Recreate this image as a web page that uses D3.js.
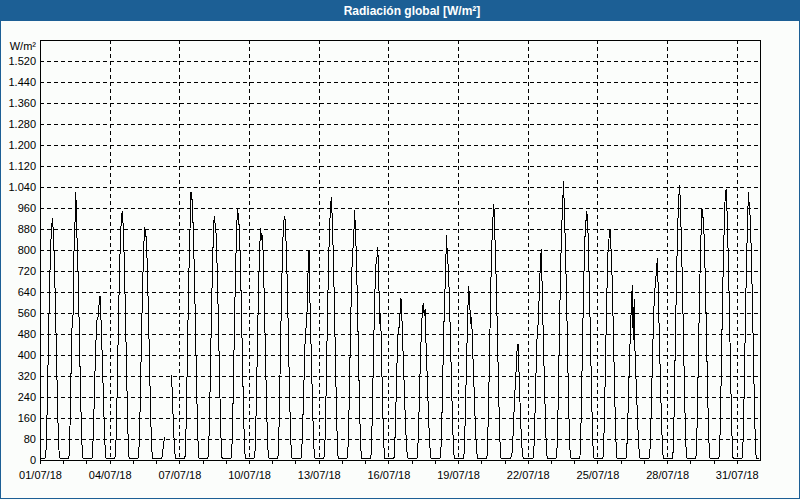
<!DOCTYPE html>
<html>
<head>
<meta charset="utf-8">
<script src="https://cdn.jsdelivr.net/npm/d3@7"></script>
<style>
  html, body { margin: 0; padding: 0; background: #fbfdfb; }
  svg { display: block; }
  text { font-family: "Liberation Sans", Arial, sans-serif; }
</style>
</head>
<body>
<svg id="chart" width="800" height="500"></svg>
<script>
// ---- data ----
const chartTitle = "Radiación global [W/m²]";
const unitLabel = "W/m²";
const year = 2018, month = 6; // July (0-based)
const dayNumbers = [1,2,3,4,5,6,7,8,9,10,11,12,13,14,15,16,17,18,19,20,21,22,23,24,25,26,27,28,29,30,31];
const hours = [0,1,2,3,4,5,6,7,8,9,10,11,12,13,14,15,16,17,18,19,20,21,22,23];
const yTicks = [0,80,160,240,320,400,480,560,640,720,800,880,960,1040,1120,1200,1280,1360,1440,1520];
const labelDays = [1,4,7,10,13,16,19,22,25,28,31];

// hourly global radiation (W/m²), one row per day, 24 hours each (null = no data)
const radiation = [
  [5,5,5,5,5,5,15,125,310,500,680,810,891,921,850,735,580,405,230,85,10,5,5,5],
  [5,5,5,5,5,5,15,130,320,500,520,780,880,1020,875,760,600,420,240,90,10,5,5,5],
  [5,5,5,5,5,5,10,90,220,360,470,540,545,590,626,540,430,310,180,70,8,5,5,5],
  [5,5,5,5,5,5,15,125,315,515,690,830,915,948,890,770,610,430,245,90,10,5,5,5],
  [5,5,5,5,5,5,15,120,300,490,660,790,886,865,840,720,570,400,230,85,10,5,5,5],
  [5,5,5,5,5,5,8,40,70,89,null,null,null,null,null,null,324,215,125,40,8,5,5,5],
  [5,5,5,5,5,5,15,135,335,545,735,880,1020,1000,920,790,630,440,255,95,10,5,5,5],
  [5,5,5,5,5,5,15,130,320,520,700,840,929,900,860,740,585,410,235,88,10,5,5,5],
  [5,5,5,5,5,5,15,130,325,525,710,850,959,930,880,760,600,420,240,90,10,5,5,5],
  [5,5,5,5,5,5,15,125,310,500,680,810,882,838,857,730,575,400,230,85,10,5,5,5],
  [5,5,5,5,5,5,15,130,320,520,700,840,910,929,860,745,590,410,235,88,10,5,5,5],
  [5,5,5,5,5,5,8,80,200,330,460,508,571,720,800,600,450,300,160,50,8,5,5,5],
  [5,5,5,5,5,5,15,135,330,535,720,865,950,1001,920,790,630,440,255,95,10,5,5,5],
  [5,5,5,5,5,5,15,130,320,520,690,800,815,952,880,760,600,420,240,90,10,5,5,5],
  [5,5,5,5,5,5,12,115,290,470,630,743,760,813,700,520,560,380,220,80,8,5,5,5],
  [5,5,5,5,5,5,10,100,240,380,486,505,560,616,540,430,320,210,110,40,8,5,5,5],
  [5,5,5,5,5,5,10,95,230,370,480,560,597,550,575,430,330,220,120,45,8,5,5,5],
  [5,5,5,5,5,5,12,110,280,460,600,697,857,775,730,620,480,330,190,70,8,5,5,5],
  [5,5,5,5,5,5,10,100,250,410,560,663,600,518,545,430,330,220,120,45,8,5,5,5],
  [5,5,5,5,5,5,15,130,300,500,690,830,920,975,860,740,590,420,250,100,10,5,5,5],
  [5,5,5,5,5,5,5,12,30,110,200,280,343,420,442,330,220,120,50,12,5,5,5,5],
  [5,5,5,5,5,5,10,100,250,400,505,518,650,743,804,640,480,330,190,70,8,5,5,5],
  [5,5,5,5,5,5,15,135,335,545,735,880,965,1063,930,800,640,450,260,100,10,5,5,5],
  [5,5,5,5,5,5,15,130,320,520,700,840,902,948,900,770,610,430,245,92,10,5,5,5],
  [5,5,5,5,5,5,15,125,305,500,670,800,845,880,810,720,570,400,230,85,10,5,5,5],
  [5,5,5,5,5,5,10,100,230,360,480,580,667,457,613,381,300,200,110,40,8,5,5,5],
  [5,5,5,5,5,5,10,100,250,400,540,640,667,730,768,620,470,320,180,65,8,5,5,5],
  [5,5,5,5,5,5,15,135,340,550,740,890,997,1048,940,800,640,450,260,100,10,5,5,5],
  [5,5,5,5,5,5,15,130,325,525,710,850,959,930,880,760,600,420,240,90,10,5,5,5],
  [5,5,5,5,5,5,15,135,340,550,740,885,1003,1032,940,800,640,450,260,100,10,5,5,5],
  [5,5,5,5,5,5,15,135,340,550,740,885,1020,965,920,790,630,440,255,95,10,5,5,5]
];

// ---- layout ----
const W = 800, H = 500;
const plot = { left: 40, right: 760, top: 40, bottom: 460 };
const blue = "#1c5f95";
const bg = "#fbfdfb";

const svg = d3.select("#chart");

// outer frame
svg.append("rect").attr("x", 0.5).attr("y", 0.5).attr("width", W - 1).attr("height", H - 2)
  .attr("fill", bg).attr("stroke", blue).attr("stroke-width", 1);
// title bar
svg.append("rect").attr("x", 0).attr("y", 0).attr("width", W).attr("height", 21).attr("fill", blue);
svg.append("text").attr("x", 412).attr("y", 15).attr("text-anchor", "middle")
  .attr("fill", "#ffffff").attr("font-weight", "bold").attr("font-size", "12px").text(chartTitle);

// scales
const x = d3.scaleUtc()
  .domain([new Date(Date.UTC(year, month, 1)), new Date(Date.UTC(year, month + 1, 1))])
  .range([plot.left, plot.right]);
const y = d3.scaleLinear().domain([0, 1600]).range([plot.bottom, plot.top]);

const locale = d3.formatLocale({ decimal: ",", thousands: ".", grouping: [3], currency: ["", "€"] });
const fmt = locale.format(",d");

// gridlines
const grid = svg.append("g").attr("stroke", "#000").attr("stroke-width", 1)
  .attr("stroke-dasharray", "4,3").attr("shape-rendering", "crispEdges");
grid.selectAll("line.h").data(yTicks.filter(v => v > 0)).join("line").attr("class", "h")
  .attr("x1", plot.left).attr("x2", plot.right)
  .attr("y1", d => Math.round(y(d)) + 0.5).attr("y2", d => Math.round(y(d)) + 0.5);
grid.selectAll("line.v").data(labelDays.filter(d => d > 1)).join("line").attr("class", "v")
  .attr("x1", d => Math.round(x(new Date(Date.UTC(year, month, d)))) + 0.5)
  .attr("x2", d => Math.round(x(new Date(Date.UTC(year, month, d)))) + 0.5)
  .attr("y1", plot.top).attr("y2", plot.bottom);

// data line
const points = [];
radiation.forEach((row, i) => {
  row.forEach((v, h) => {
    points.push({ t: new Date(Date.UTC(year, month, dayNumbers[i], hours[h])), v: v });
  });
});
const line = d3.line().defined(d => d.v !== null).x(d => x(d.t)).y(d => y(d.v));
svg.append("path").datum(points).attr("d", line)
  .attr("fill", "none").attr("stroke", "#000").attr("stroke-width", 1)
  .attr("shape-rendering", "crispEdges");

// plot frame
svg.append("rect").attr("x", plot.left + 0.5).attr("y", plot.top + 0.5)
  .attr("width", plot.right - plot.left).attr("height", plot.bottom - plot.top)
  .attr("fill", "none").attr("stroke", "#000").attr("shape-rendering", "crispEdges");

// x axis
const labelSet = new Set(labelDays);
const xAxis = d3.axisBottom(x)
  .tickValues(dayNumbers.map(d => new Date(Date.UTC(year, month, d))))
  .tickSize(3).tickPadding(8)
  .tickFormat(d => labelSet.has(d.getUTCDate()) ? d3.utcFormat("%d/%m/%y")(d) : "");
const gx = svg.append("g").attr("transform", `translate(0,${plot.bottom + 0.5})`).call(xAxis);
gx.select(".domain").remove();
gx.selectAll("line").attr("stroke", "#000").attr("shape-rendering", "crispEdges");
gx.selectAll("text").attr("font-size", "11px").attr("font-family", "Liberation Sans, Arial, sans-serif").attr("fill", "#000");

// y axis
const yAxis = d3.axisLeft(y).tickValues(yTicks).tickSize(0).tickPadding(4).tickFormat(fmt);
const gy = svg.append("g").attr("transform", `translate(${plot.left},0)`).call(yAxis);
gy.select(".domain").remove();
gy.selectAll("text").attr("font-size", "11px").attr("font-family", "Liberation Sans, Arial, sans-serif").attr("fill", "#000");

svg.append("text").attr("x", 36).attr("y", 50).attr("text-anchor", "end")
  .attr("font-size", "11px").attr("fill", "#000").text(unitLabel);
</script>
</body>
</html>
